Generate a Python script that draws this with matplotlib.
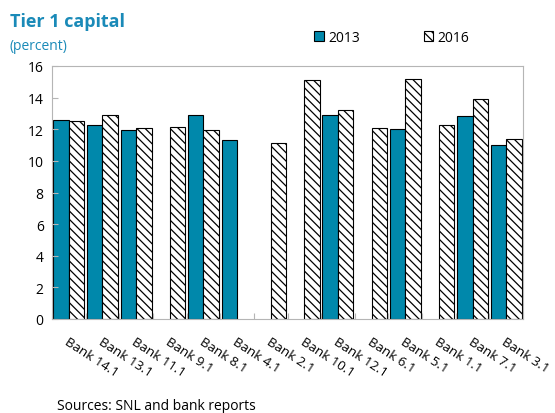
import numpy as np
import matplotlib
matplotlib.use('Agg')
import matplotlib.pyplot as plt

plt.rcParams['font.family'] = ['Open Sans', 'DejaVu Sans']
plt.rcParams['hatch.linewidth'] = 0.9

banks = ['Bank 14.1', 'Bank 13.1', 'Bank 11.1', 'Bank 9.1', 'Bank 8.1', 'Bank 4.1', 'Bank 2.1',
         'Bank 10.1', 'Bank 12.1', 'Bank 6.1', 'Bank 5.1', 'Bank 1.1', 'Bank 7.1', 'Bank 3.1']
v2013 = [12.6, 12.25, 11.95, np.nan, 12.9, 11.3, np.nan,
         np.nan, 12.9, np.nan, 12.0, np.nan, 12.85, 11.0]
v2016 = [12.55, 12.9, 12.05, 12.15, 11.95, np.nan, 11.15,
         15.1, 13.2, 12.05, 15.2, 12.3, 13.9, 11.4]

teal = '#0088ab'
blue_txt = '#1a8ab8'

fig = plt.figure(figsize=(5.55, 4.14), dpi=100)
ax = fig.add_axes([52/555, 1-320/414, 471/555, 253/414])

x = np.arange(len(banks)) + 0.5
w = 0.46
ax.bar(x - w/2, v2013, w, color=teal, edgecolor='black', linewidth=0.8, label='2013')
ax.bar(x + w/2, v2016, w, color='white', edgecolor='black', hatch='\\\\\\\\', linewidth=0.8, label='2016')

ax.set_xlim(0, len(banks))
ax.set_ylim(0, 16)
ax.set_yticks(range(0, 17, 2))
ax.set_xticks(range(0, len(banks)+1))
ax.set_xticklabels([])
for s in ax.spines.values():
    s.set_color('#b5b5b5')
ax.tick_params(axis='both', direction='in', length=4, color='#b5b5b5', labelsize=10)
ax.tick_params(axis='y', pad=6)

for xi, lab in zip(x, banks):
    ax.text(xi + 0.02, -1.0, lab, rotation=-33, ha='left', va='top',
            rotation_mode='anchor', fontsize=9.5)

fig.text(10/555, 1-27/414, 'Tier 1 capital', fontsize=13, fontweight='bold', color=blue_txt)
fig.text(10/555, 1-50/414, '(percent)', fontsize=10, color=blue_txt)
fig.text(57/555, 1-410/414, 'Sources: SNL and bank reports', fontsize=10)

fig.legend(loc='center left', bbox_to_anchor=(314/555, 1-38/414), ncol=2, frameon=False,
           handlelength=0.7, handleheight=0.7, handletextpad=0.3, columnspacing=4.6,
           borderpad=0, borderaxespad=0, fontsize=10)

fig.savefig('out.png', dpi=100)
